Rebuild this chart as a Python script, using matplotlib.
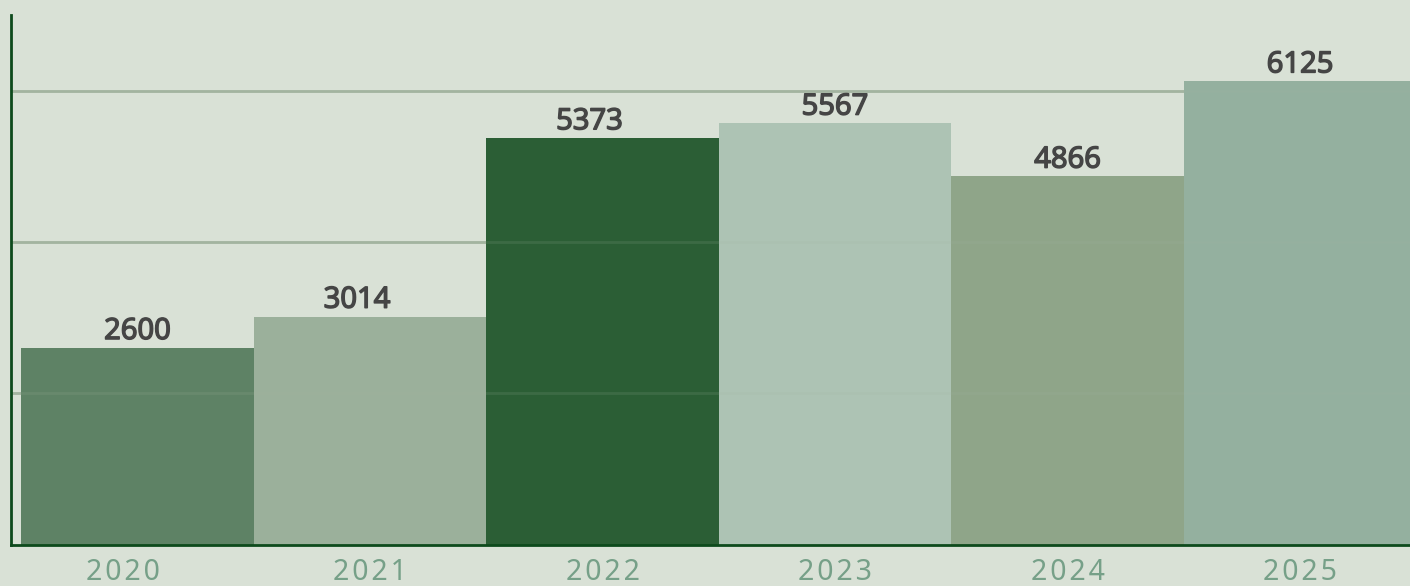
import matplotlib
matplotlib.use("Agg")
import matplotlib.pyplot as plt
from matplotlib import font_manager as fm
from matplotlib import patheffects as pe
from matplotlib.transforms import offset_copy

years = ["2020", "2021", "2022", "2023", "2024", "2025"]
values = [2600, 3014, 5373, 5567, 4866, 6125]
bar_colors = ["#5e8265", "#9bb09b", "#2b5e35", "#adc3b4", "#8fa589", "#94b09f"]
gridlines = [2000, 4000, 6000]

# small horizontal nudges (pixels) seen in the reference's text placement
value_label_nudge = [0, -13, -13, 0, 0, 0]
tick_label_nudge = [-15, 0, 0, 0, 0, 0]

value_font = fm.FontProperties(family=["Open Sans", "DejaVu Sans"], size=21)
label_color = "#454545"

W, H = 1410, 586
fig = plt.figure(figsize=(W / 100, H / 100), dpi=100)
bg = "#d9e1d6"
fig.patch.set_facecolor(bg)

left = 11 / W
bottom = (H - 544.5) / H
top = (H - 15) / H
ax = fig.add_axes([left, bottom, 1 - left, top - bottom])
ax.set_facecolor(bg)

for g in gridlines:
    ax.axhline(g, color="#a3b4a0", lw=2.0, zorder=1)
    ax.axhline(g, color="#a3b4a0", lw=2.0, zorder=3, alpha=0.15)

x = list(range(len(years)))
ax.bar(x, values, width=1.0, color=bar_colors, zorder=2, linewidth=0)

for xi, v, dx in zip(x, values, value_label_nudge):
    ax.annotate(f"{v}", (xi, v), xytext=(dx * 0.72, 1.3), textcoords="offset points",
                ha="center", va="bottom", fontproperties=value_font, color=label_color,
                path_effects=[pe.withStroke(linewidth=1.1, foreground=label_color)])

ax.set_xlim(-0.544, 5.473)
ax.set_ylim(0, 7000)
ax.set_xticks(x)
ax.set_xticklabels(["\u200a".join(y) for y in years], family=["Noto Sans", "DejaVu Sans"],
                   fontsize=20.5, color="#76a088")
ax.tick_params(axis="x", length=0, pad=10)
ax.set_yticks([])
for lbl, dx in zip(ax.get_xticklabels(), tick_label_nudge):
    if dx:
        lbl.set_transform(offset_copy(lbl.get_transform(), fig=fig, x=dx, y=0, units="dots"))

for s in ["top", "right"]:
    ax.spines[s].set_visible(False)
for s in ["left", "bottom"]:
    ax.spines[s].set_color("#0d4a1c")
    ax.spines[s].set_linewidth(2.0)
    ax.spines[s].set_zorder(4)

fig.savefig("out.png", dpi=100, facecolor=bg)
